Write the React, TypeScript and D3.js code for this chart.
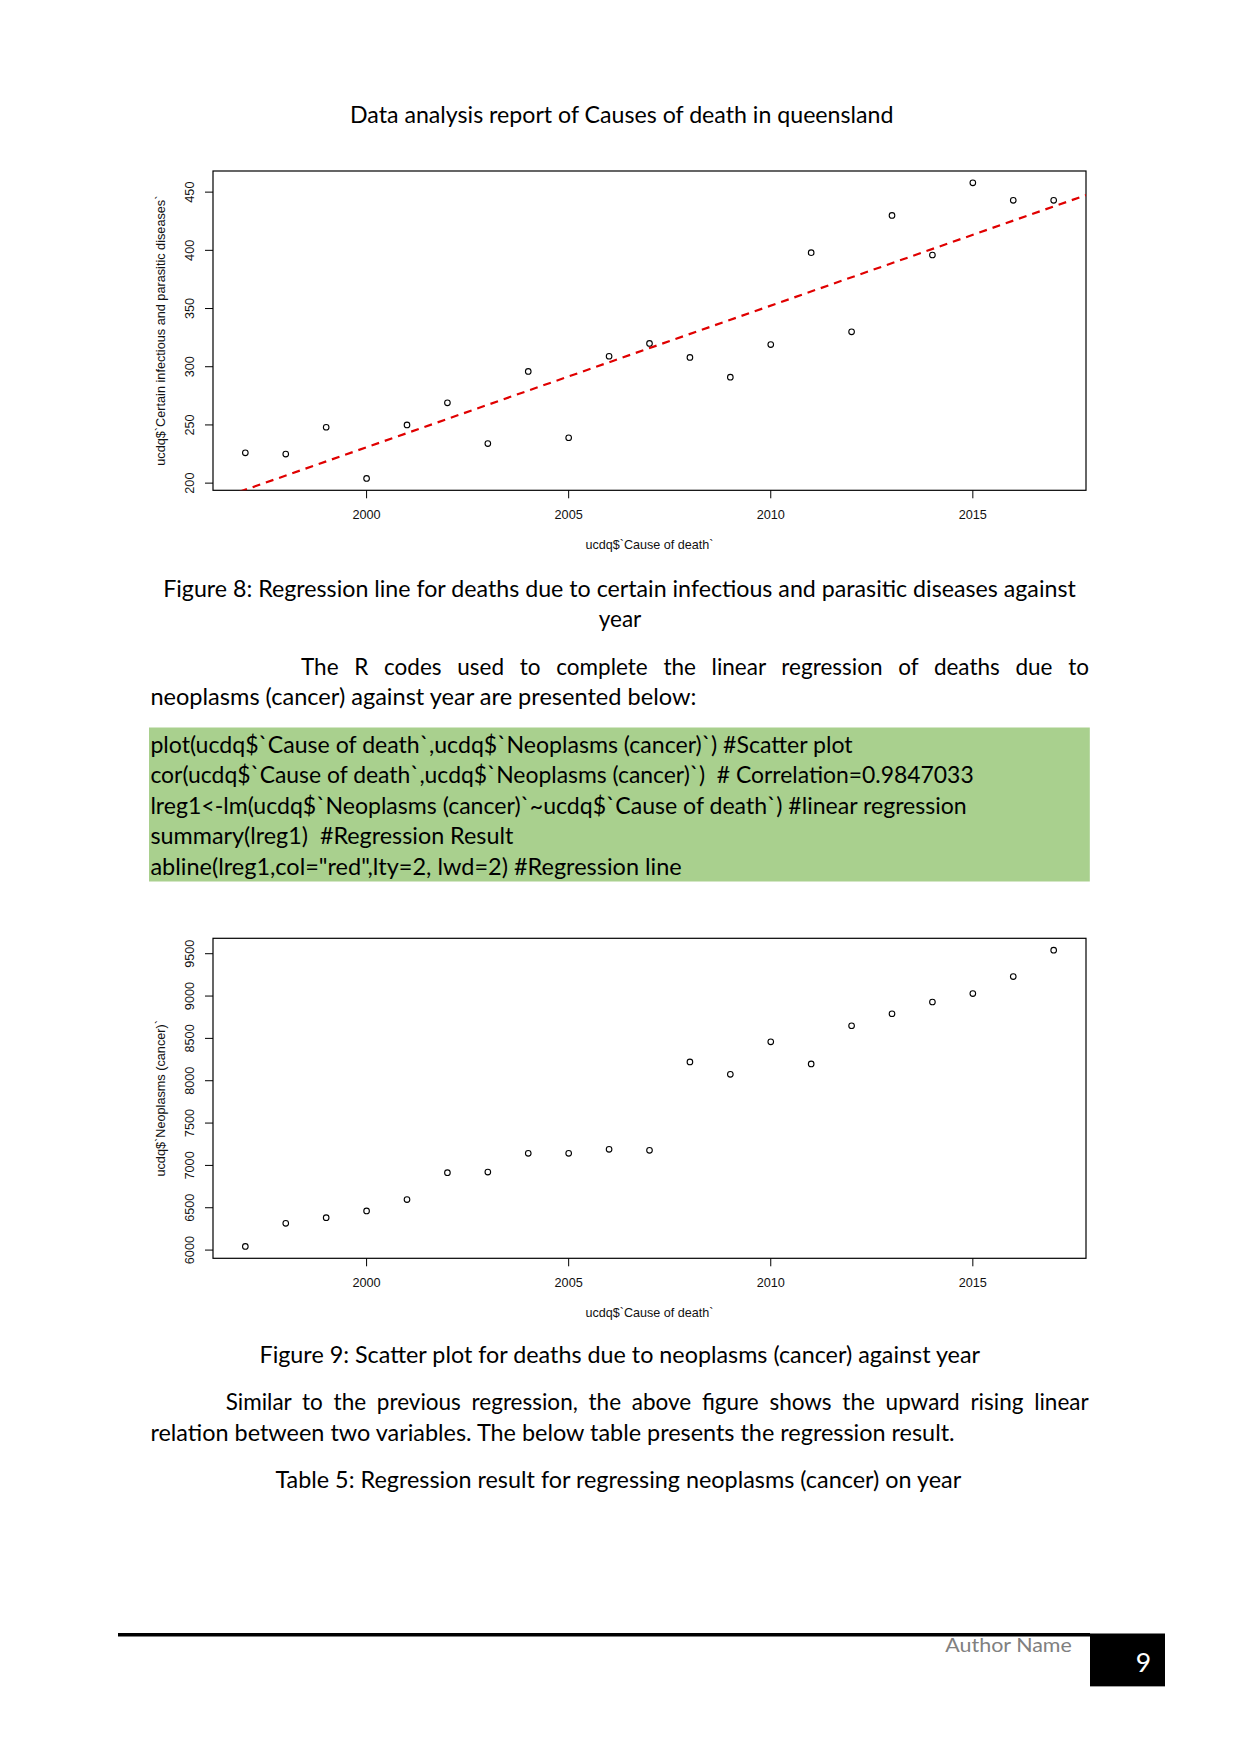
import React, { useLayoutEffect, useRef } from 'react';
import * as d3 from 'd3';

// ---------- data ----------
const years = [1997, 1998, 1999, 2000, 2001, 2002, 2003, 2004, 2005, 2006, 2007, 2008, 2009, 2010, 2011, 2012, 2013, 2014, 2015, 2016, 2017];
const infectiousDeaths = [226, 225, 248, 204, 250, 269, 234, 296, 239, 309, 320, 308, 291, 319, 398, 330, 430, 396, 458, 443, 443];
const neoplasmDeaths = [6043, 6316, 6383, 6463, 6597, 6914, 6921, 7143, 7143, 7190, 7178, 8222, 8076, 8459, 8198, 8649, 8791, 8930, 9029, 9230, 9542];
const xTicks = [2000, 2005, 2010, 2015];
const infectiousTicks = [200, 250, 300, 350, 400, 450];
const neoplasmTicks = [6000, 6500, 7000, 7500, 8000, 8500, 9000, 9500];

const codeLines = [
  'plot(ucdq$`Cause of death`,ucdq$`Neoplasms (cancer)`) #Scatter plot',
  'cor(ucdq$`Cause of death`,ucdq$`Neoplasms (cancer)`)  # Correlation=0.9847033',
  'lreg1<-lm(ucdq$`Neoplasms (cancer)`~ucdq$`Cause of death`) #linear regression',
  'summary(lreg1)  #Regression Result',
  'abline(lreg1,col="red",lty=2, lwd=2) #Regression line',
];
const codeEnds = [852.6, 973.7, 966.7, 513.3, 681.7];

const BODY_FONT = "Lato, 'Noto Sans', sans-serif";
const CHART_FONT = "'Liberation Sans', Arial, Helvetica, sans-serif";
const BODY_SIZE = 22.5;

function rRange(vals: number[]): [number, number] {
  const lo = d3.min(vals) as number;
  const hi = d3.max(vals) as number;
  const pad = (hi - lo) * 0.04;
  return [lo - pad, hi + pad];
}

function Line({ x, y, w, text, anchor = 'start', size = BODY_SIZE, fill = '#000' }: any) {
  return (
    <text x={x} y={y} fontFamily={BODY_FONT} fontSize={size} fill={fill} textAnchor={anchor}
      textLength={w} lengthAdjust="spacingAndGlyphs" style={{ whiteSpace: 'pre' }}>{text}</text>
  );
}

function JustLine({ x, y, w, text }: any) {
  const ref = useRef<SVGTextElement>(null);
  useLayoutEffect(() => {
    const fit = () => {
      const el = ref.current;
      if (!el) return;
      el.style.wordSpacing = '0px';
      const natural = el.getComputedTextLength();
      const spaces = (text.match(/ /g) || []).length;
      el.style.wordSpacing = `${(w - natural) / spaces}px`;
    };
    fit();
    (document as any).fonts?.ready?.then(fit);
  }, [w, text]);
  return (
    <text ref={ref} x={x} y={y} fontFamily={BODY_FONT} fontSize={BODY_SIZE} fill="#000">{text}</text>
  );
}

function Scatter({ id, top, bottom, ys, yTicks, yLabel, regression }: any) {
  const left = 213, right = 1086;
  const x = d3.scaleLinear().domain(rRange(years)).range([left, right]);
  const y = d3.scaleLinear().domain(rRange(ys)).range([bottom, top]);
  let reg: any = null;
  if (regression) {
    const mx = d3.mean(years) as number;
    const my = d3.mean(ys) as number;
    const sxy = d3.sum(years, (v, i) => (v - mx) * (ys[i] - my));
    const sxx = d3.sum(years, (v) => (v - mx) * (v - mx));
    const b = sxy / sxx;
    const a = my - b * mx;
    const [x0, x1] = x.domain();
    const line = d3.line<number>().x((d) => x(d)).y((d) => y(a + b * d));
    reg = line([x0, x1]);
  }
  const cy = (top + bottom) / 2;
  const cx = (left + right) / 2;
  return (
    <g>
      <defs>
        <clipPath id={`clip-${id}`}>
          <rect x={left} y={top} width={right - left} height={bottom - top} />
        </clipPath>
      </defs>
      <rect x={left} y={top} width={right - left} height={bottom - top} fill="none" stroke="#000" strokeWidth={1.2} />
      {xTicks.map((t) => (
        <g key={t}>
          <line x1={x(t)} x2={x(t)} y1={bottom} y2={bottom + 8} stroke="#000" strokeWidth={1} />
          <text x={x(t)} y={bottom + 28.5} fontFamily={CHART_FONT} fontSize={12.7} textAnchor="middle" fill="#111">{t}</text>
        </g>
      ))}
      {yTicks.map((t: number) => (
        <g key={t}>
          <line x1={left - 8} x2={left} y1={y(t)} y2={y(t)} stroke="#000" strokeWidth={1} />
          <text transform={`translate(${193.5},${y(t)}) rotate(-90)`} fontFamily={CHART_FONT} fontSize={12.7} textAnchor="middle" fill="#111">{t}</text>
        </g>
      ))}
      <text x={cx} y={bottom + 59} fontFamily={CHART_FONT} fontSize={12.6} textAnchor="middle" fill="#111">ucdq$`Cause of death`</text>
      <text transform={`translate(${165},${cy}) rotate(-90)`} fontFamily={CHART_FONT} fontSize={12.7} textAnchor="middle" fill="#111">{yLabel}</text>
      {years.map((yr, i) => (
        <circle key={yr} cx={x(yr)} cy={y(ys[i])} r={2.8} fill="none" stroke="#000" strokeWidth={1.1} />
      ))}
      {reg && (
        <path d={reg} fill="none" stroke="#e00000" strokeWidth={2.2} strokeDasharray="8,6" clipPath={`url(#clip-${id})`} />
      )}
    </g>
  );
}

export default function App() {
  return (
    <svg width={1241} height={1754} style={{ position: 'absolute', left: 0, top: 0, background: '#fff' }}>
      <rect x={0} y={0} width={1241} height={1754} fill="#fff" />
      <Line x={350} y={122.7} w={543.4} text="Data analysis report of Causes of death in queensland" />

      <Scatter id="c1" top={171} bottom={490.3} ys={infectiousDeaths} yTicks={infectiousTicks}
        yLabel="ucdq$`Certain infectious and parasitic diseases`" regression={true} />

      <Line x={163.2} y={597} w={912.6} text="Figure 8: Regression line for deaths due to certain infectious and parasitic diseases against" />
      <text x={620} y={627} fontFamily={BODY_FONT} fontSize={BODY_SIZE} textAnchor="middle">year</text>

      <JustLine x={301} y={675} w={788} text="The R codes used to complete the linear regression of deaths due to" />
      <Line x={150.4} y={705} w={545.9} text="neoplasms (cancer) against year are presented below:" />

      <rect x={149} y={727.5} width={940.8} height={154} fill="#a9d08e" />
      {codeLines.map((t, i) => (
        <Line key={i} x={150.4} y={752.5 + i * 30.6} w={codeEnds[i] - 150.4} text={t} />
      ))}

      <Scatter id="c2" top={938.3} bottom={1258.3} ys={neoplasmDeaths} yTicks={neoplasmTicks}
        yLabel="ucdq$`Neoplasms (cancer)`" regression={false} />

      <Line x={259.5} y={1362.7} w={720.5} text="Figure 9: Scatter plot for deaths due to neoplasms (cancer) against year" />
      <JustLine x={225.7} y={1410} w={863} text="Similar to the previous regression, the above figure shows the upward rising linear" />
      <Line x={150.4} y={1440.7} w={804.2} text="relation between two variables. The below table presents the regression result." />
      <Line x={275.4} y={1487.7} w={685.8} text="Table 5: Regression result for regressing neoplasms (cancer) on year" />

      {/* footer */}
      <rect x={118} y={1633} width={972} height={3.5} fill="#000" />
      <rect x={1090} y={1633.5} width={75} height={52.5} fill="#000" />
      <line x1={1090} x2={1165} y1={1686.5} y2={1686.5} stroke="#a0a0a0" strokeWidth={1} />
      <Line x={945.3} y={1651.7} w={126.5} size={18.7} fill="#808080" text="Author Name" />
      <text x={1143.5} y={1671.7} fontFamily={BODY_FONT} fontSize={26.5} fill="#fff" textAnchor="middle">9</text>
    </svg>
  );
}
